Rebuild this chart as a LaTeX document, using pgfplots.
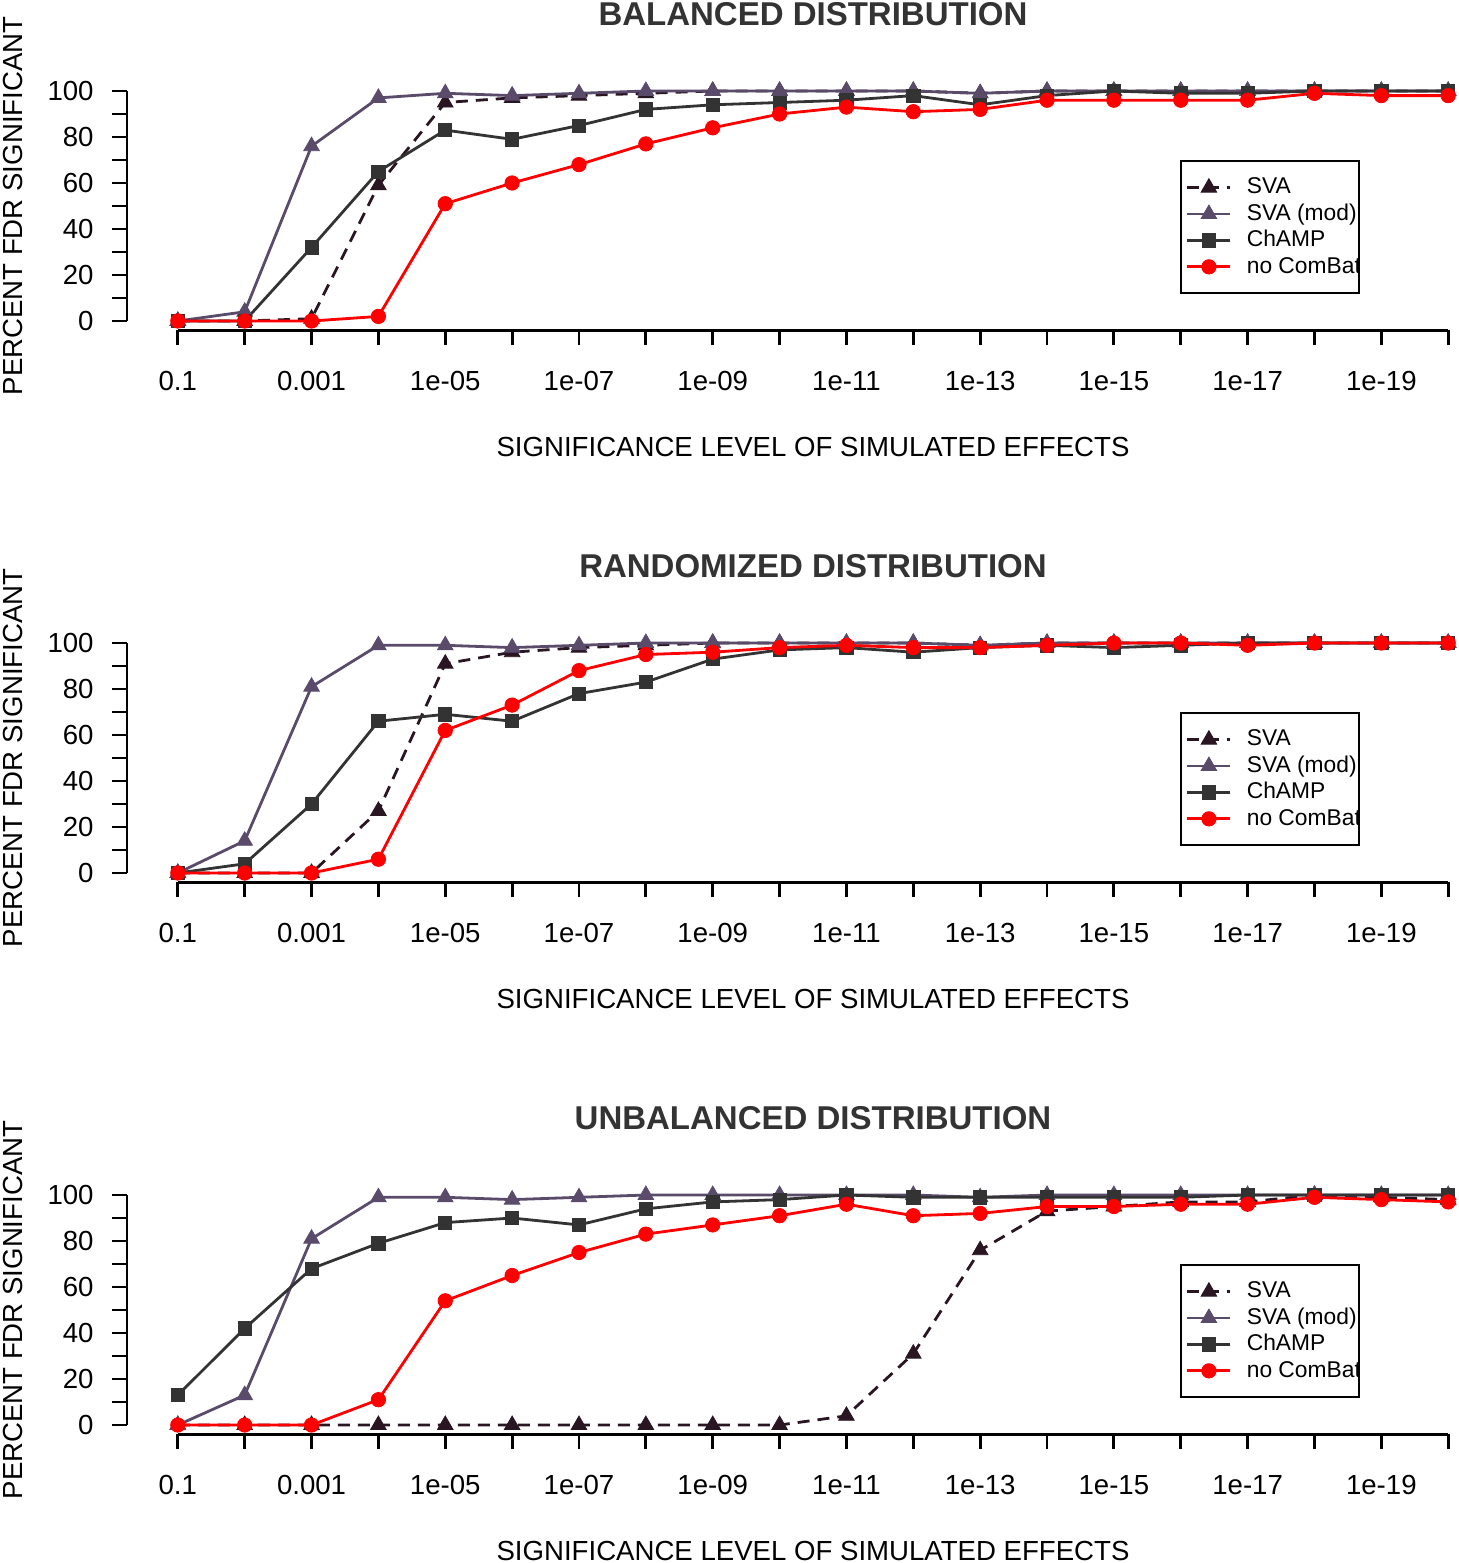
\documentclass[border=0pt]{standalone}
\usepackage{fontspec}
\setmainfont{Liberation Sans}
\usepackage{pgfplots}
\usepackage{pgfplotstable}
\pgfplotsset{compat=1.18}
\definecolor{svac}{HTML}{2A1623}
\definecolor{svamod}{HTML}{5A4B6B}
\definecolor{champ}{HTML}{333333}
\definecolor{titlec}{HTML}{333333}

\pgfplotstableread{
i sva mod champ noc
1 0 0 0 0
2 0 4 0 0
3 1 76 32 0
4 59 97 65 2
5 95 99 83 51
6 97 98 79 60
7 98 99 85 68
8 99 100 92 77
9 100 100 94 84
10 100 100 95 90
11 100 100 96 93
12 100 100 98 91
13 99 99 94 92
14 100 100 98 96
15 100 100 100 96
16 100 100 99 96
17 100 100 99 96
18 100 100 100 99
19 100 100 100 98
20 100 100 100 98
}\tbal

\pgfplotstableread{
i sva mod champ noc
1 0 0 0 0
2 0 14 4 0
3 0 81 30 0
4 27 99 66 6
5 91 99 69 62
6 96 98 66 73
7 98 99 78 88
8 99 100 83 95
9 100 100 93 96
10 100 100 97 98
11 100 100 98 99
12 100 100 96 98
13 99 99 98 98
14 100 100 99 99
15 100 100 98 100
16 100 100 99 100
17 100 100 100 99
18 100 100 100 100
19 100 100 100 100
20 100 100 100 100
}\trand

\pgfplotstableread{
i sva mod champ noc
1 0 0 13 0
2 0 13 42 0
3 0 81 68 0
4 0 99 79 11
5 0 99 88 54
6 0 98 90 65
7 0 99 87 75
8 0 100 94 83
9 0 100 97 87
10 0 100 98 91
11 4 100 100 96
12 31 100 99 91
13 76 99 99 92
14 93 100 99 95
15 95 100 99 95
16 97 100 99 96
17 97 100 100 96
18 100 100 100 99
19 99 100 100 98
20 98 100 100 97
}\tunbal

\pgfplotsset{
  panel/.style={
    scale only axis, width=686pt, height=124.2pt,
    xmin=0.24, xmax=20.76, ymin=-4, ymax=104,
    axis x line*=bottom, axis y line*=left,
    x axis line style={-, line width=1.4pt, shorten <=25.4pt, shorten >=25.4pt},
    y axis line style={-, line width=1.4pt, shorten <=4.6pt, shorten >=4.6pt},
    tick style={line width=1.4pt, black},
    tick align=outside,
    major tick length=7.5pt,
    xtick={1,...,20},
    xticklabels={0.1,,0.001,,1e-05,,1e-07,,1e-09,,1e-11,,1e-13,,1e-15,,1e-17,,1e-19,},
    ytick={0,10,...,100},
    yticklabels={0,,20,,40,,60,,80,,100},
    tick label style={font=\fontsize{13.8}{16}\selectfont},
    every x tick label/.append style={anchor=base, yshift=-22.4pt},
    every y tick label/.append style={anchor=east, inner sep=0pt, xshift=-9pt},
    xlabel={SIGNIFICANCE LEVEL OF SIMULATED EFFECTS},
    ylabel={PERCENT FDR SIGNIFICANT},
    every axis x label/.style={at={([yshift=-63pt]rel axis cs:0.5,0)}, anchor=base, font=\fontsize{13.8}{16}\selectfont},
    every axis y label/.style={at={([xshift=-52pt]rel axis cs:0,0.5)}, rotate=90, anchor=base, font=\fontsize{13.8}{16}\selectfont},
    every axis title/.style={at={([yshift=28pt]rel axis cs:0.5,1)}, anchor=base, font=\fontsize{16.5}{19}\selectfont\bfseries, text=titlec},
    clip=false,
    legend cell align=left,
    legend image code/.code={\draw[mark repeat=2,mark phase=2,##1] plot coordinates {(0pt,0pt)(10.75pt,0pt)(21.5pt,0pt)};},
    legend style={at={(rel axis cs:0.7675,0.685)}, anchor=north west, draw=black, line width=1pt,
      font=\fontsize{11.4}{13}\selectfont, inner xsep=2.5pt, inner ysep=7.7pt, row sep=2pt, column sep=7.5pt,
      nodes={inner sep=0pt, text height=8.7pt, text depth=2.5pt}},
  },
  sva/.style={color=svac, line width=1.4pt, dash pattern=on 6pt off 4pt, mark=triangle*, mark size=4.5pt, mark options={solid, fill=svac, line width=0.4pt}},
  svamod/.style={color=svamod, line width=1.4pt, mark=triangle*, mark size=4.5pt, mark options={solid, fill=svamod, line width=0.4pt}},
  champ/.style={color=champ, line width=1.4pt, mark=square*, mark size=3.3pt, mark options={solid, fill=champ, line width=0.4pt}},
  noc/.style={color=red, line width=1.4pt, mark=*, mark size=3.6pt, mark options={solid, fill=red, line width=0.4pt}},
}

\newcommand\lbl[1]{\makebox[53.5pt][l]{#1}}

\newcommand\panel[4]{%
\begin{axis}[panel, at={(63.5pt,#1)}, anchor=south west, title={#2}, legend style={name=#4}]
\addplot[sva] table[x=i,y=sva] {#3};
\addlegendentry{\lbl{SVA}}
\addplot[svamod] table[x=i,y=mod] {#3};
\addlegendentry{\lbl{SVA (mod)}}
\addplot[champ] table[x=i,y=champ] {#3};
\addlegendentry{\lbl{ChAMP}}
\addplot[noc] table[x=i,y=noc] {#3};
\addlegendentry{\lbl{no ComBat}}
\end{axis}
\fill[white] ([xshift=0.1pt]#4.north east) rectangle ([xshift=30pt]#4.south east);
}

\begin{document}
\begin{tikzpicture}
\panel{-165.1pt}{BALANCED DISTRIBUTION}{\tbal}{legA}
\panel{-441.1pt}{RANDOMIZED DISTRIBUTION}{\trand}{legB}
\panel{-717.1pt}{UNBALANCED DISTRIBUTION}{\tunbal}{legC}
\pgfresetboundingbox
\useasboundingbox (0,0) rectangle (729.5pt,-781.5pt);
\end{tikzpicture}
\end{document}
